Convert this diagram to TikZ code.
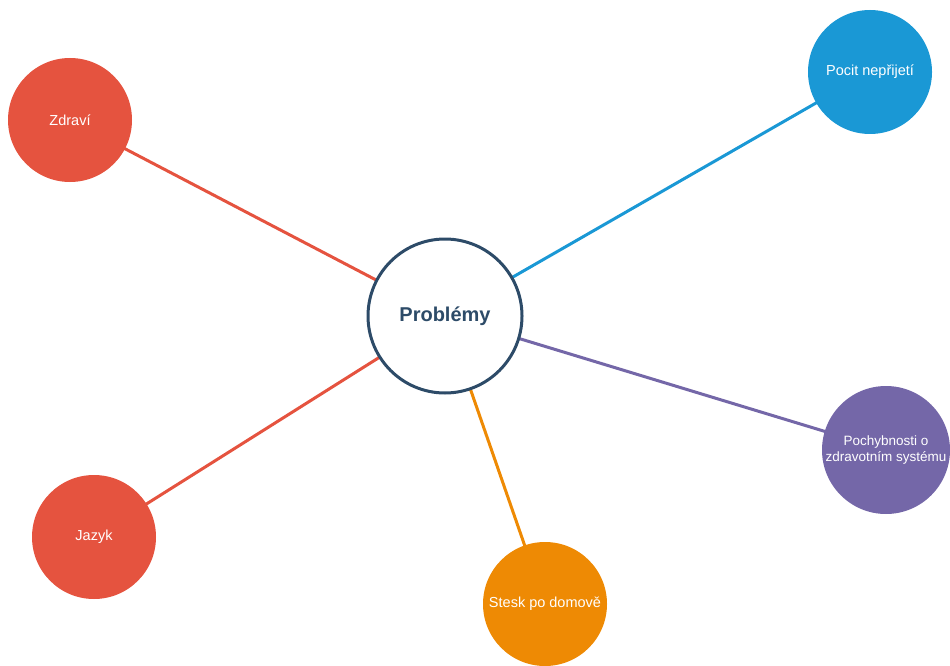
\documentclass[tikz,border=0pt]{standalone}
\usepackage{fontspec}
\setmainfont{Liberation Sans}
\definecolor{redc}{HTML}{E5533F}
\definecolor{bluec}{HTML}{1A98D5}
\definecolor{purplec}{HTML}{7467A8}
\definecolor{orangec}{HTML}{EE8A04}
\definecolor{navyc}{HTML}{2D4B68}
\tikzset{
  bubble/.style={circle, minimum size=124pt, inner sep=0pt, text=white, align=center,
    font=\fontsize{14.5}{16.5}\selectfont},
  hub/.style={circle, draw=navyc, line width=3pt, fill=white, minimum size=154pt,
    inner sep=0pt, text=navyc, font=\fontsize{20}{24}\selectfont\bfseries},
  link/.style={line width=3pt}
}
\begin{document}
\begin{tikzpicture}[x=1pt,y=-1pt]
  \useasboundingbox (0,0) rectangle (950,666);

  % connectors first, circles on top
  \coordinate (c) at (445,316);
  \draw[link,redc]    (c) -- (70,120);
  \draw[link,redc]    (c) -- (94,537);
  \draw[link,bluec]   (c) -- (870,72);
  \draw[link,purplec] (c) -- (886,450);
  \draw[link,orangec] (c) -- (545,604);

  \node[hub] (prob) at (c) {Problémy};
  \node[bubble,fill=redc]    (zdravi) at (70,120)  {Zdraví};
  \node[bubble,fill=redc]    (jazyk)  at (94,537)  {Jazyk};
  \node[bubble,fill=bluec]   (pocit)  at (870,72)  {Pocit nepřijetí};
  \node[bubble,fill=purplec,minimum size=128pt,font=\fontsize{13.5}{16.5}\selectfont]
    (pochyb) at (886,450) {Pochybnosti o\\zdravotním systému};
  \node[bubble,fill=orangec] (stesk)  at (545,604) {Stesk po domově};
\end{tikzpicture}
\end{document}
